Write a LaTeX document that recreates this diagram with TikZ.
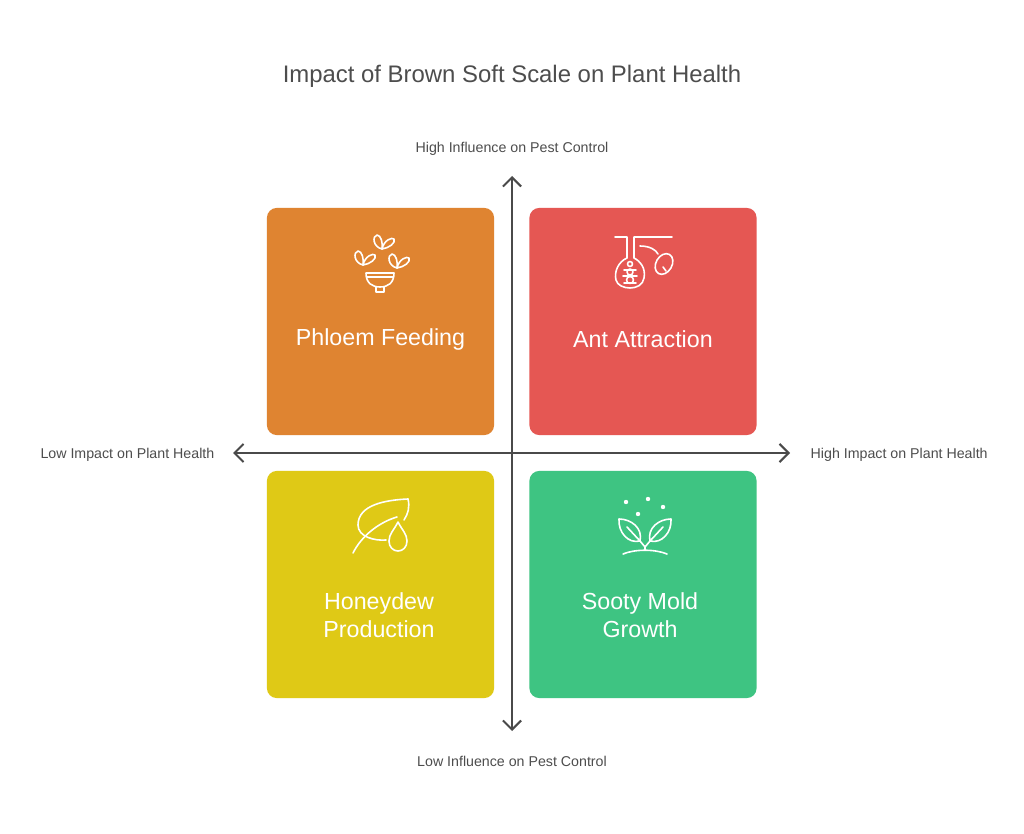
\documentclass[tikz,border=0pt]{standalone}
\usepackage{fontspec}
\setmainfont{Liberation Sans}
\usetikzlibrary{arrows.meta}
\definecolor{phloemc}{HTML}{DF8431}
\definecolor{antc}{HTML}{E55753}
\definecolor{honeyc}{HTML}{DFC916}
\definecolor{sootyc}{HTML}{3EC482}
\definecolor{axisc}{HTML}{4A4A4A}
\definecolor{labelc}{HTML}{4D4D4D}
\begin{document}
\begin{tikzpicture}[x=0.2646mm, y=-0.2646mm,
    quad/.style={rectangle, rounded corners=2.6mm, minimum width=60.1mm, minimum height=60.1mm, inner sep=0pt},
    title/.style={text=labelc, font=\fontsize{18}{22}\selectfont},
    axislabel/.style={text=labelc, font=\fontsize{10.7}{12}\selectfont},
    quadlabel/.style={text=white, align=center, font=\fontsize{17.5}{21.5}\selectfont},
    axisline/.style={draw=axisc, line width=1.5pt, {Straight Barb[length=2.4mm, width=4.8mm]}-{Straight Barb[length=2.4mm, width=4.8mm]}},
    icon/.style={draw=white, line width=1.2pt, line cap=round, line join=round}]
    \useasboundingbox (0,0) rectangle (1024,834);
    \fill[white] (0,0) rectangle (1024,834);
    \node[title] (ttl) at (512,76) {Impact of Brown Soft Scale on Plant Health};
    % quadrants
    \node[quad, fill=phloemc] (phloem) at (380.5,321.5) {};
    \node[quad, fill=antc] (ant) at (643,321.5) {};
    \node[quad, fill=honeyc] (honey) at (380.5,584.5) {};
    \node[quad, fill=sootyc] (sooty) at (643,584.5) {};
    \node[quadlabel] (phloemtxt) at (380.5,339) {Phloem Feeding};
    \node[quadlabel] (anttxt) at (643,339) {Ant Attraction};
    \node[quadlabel] (honeytxt) at (379,615) {Honeydew\\Production};
    \node[quadlabel] (sootytxt) at (640,615) {Sooty Mold\\Growth};
    % axes
    \coordinate (ytop) at (512,176);
    \coordinate (ybot) at (512,731);
    \coordinate (xleft) at (233,453);
    \coordinate (xright) at (790,453);
    \draw[axisline] (ybot) -- (ytop);
    \draw[axisline] (xleft) -- (xright);
    \node[axislabel] (hiinf) at (512,149) {High Influence on Pest Control};
    \node[axislabel] (loinf) at (512,761) {Low Influence on Pest Control};
    \node[axislabel, anchor=east] (loimp) at (219,455) {Low Impact on Plant Health};
    \node[axislabel, anchor=west] (hiimp) at (806,455) {High Impact on Plant Health};
    % icon: phloem feeding
    \draw[icon] (366,273) -- (394,273) .. controls (394,283) and (388,287) .. (380,287)
        .. controls (372,287) and (366,283) .. (366,273);
    \draw[icon] (367,277) -- (393,277);
    \draw[icon] (376,287) -- (376,292) -- (384,292) -- (384,287);
    \foreach \sx/\sy in {382/249, 363/265, 397/268} {
        \draw[icon] (\sx,\sy) .. controls (\sx-9,\sy-2) and (\sx-10,\sy-13) .. (\sx-5,\sy-14)
            .. controls (\sx-1,\sy-14) and (\sx+1,\sy-6) .. (\sx,\sy);
        \draw[icon] (\sx,\sy) .. controls (\sx+2,\sy-9) and (\sx+10,\sy-12) .. (\sx+12,\sy-10)
            .. controls (\sx+14,\sy-6) and (\sx+7,\sy-1) .. (\sx,\sy);
    }
    % icon: ant attraction
    \draw[icon] (615,237) -- (627,237) -- (627,258)
        .. controls (618,262) and (614,272) .. (616,280)
        .. controls (618,290) and (642,292) .. (644,278)
        .. controls (646,268) and (640,261) .. (634,258) -- (634,237) -- (672,237);
    \draw[icon] (640,246) .. controls (650,246) and (656,250) .. (658,254);
    \draw[icon, rotate around={-30:(664,264)}] (664,264) ellipse (8 and 11);
    \draw[icon] (663,267) -- (666,271);
    \draw[icon] (630,264) circle (2.5);
    \draw[icon] (630,272) circle (3);
    \draw[icon] (630,280) circle (3.5);
    \draw[icon] (624,270) -- (636,270) (623,276) -- (637,276) (624,283) -- (636,283);
    % icon: honeydew production
    \draw[icon] (408,499) .. controls (385,500) and (358,505) .. (358,525)
        .. controls (358,537) and (375,541) .. (386,540);
    \draw[icon] (408,499) .. controls (410,507) and (408,514) .. (404,520);
    \draw[icon] (353,553) .. controls (362,535) and (380,522) .. (397,517);
    \draw[icon] (398,522) .. controls (402,530) and (407,534) .. (407,541)
        .. controls (407,547) and (403,551) .. (398,551)
        .. controls (393,551) and (389,547) .. (389,541)
        .. controls (389,534) and (394,530) .. (398,522);
    % icon: sooty mold growth
    \foreach \dx/\dy in {626/502, 648/499, 663/507, 638/514}
        \fill[white] (\dx,\dy) circle (2.2);
    \draw[icon] (623,554) .. controls (635,549) and (655,549) .. (667,554);
    \draw[icon] (645,550) -- (645,547) -- (640,541) (645,547) -- (650,541);
    \draw[icon] (640,541) .. controls (628,544) and (618,532) .. (619,519)
        .. controls (631,519) and (643,528) .. (640,541);
    \draw[icon] (640,541) -- (627,527);
    \draw[icon] (650,541) .. controls (662,544) and (672,532) .. (671,519)
        .. controls (659,519) and (647,528) .. (650,541);
    \draw[icon] (650,541) -- (663,527);
\end{tikzpicture}
\end{document}
